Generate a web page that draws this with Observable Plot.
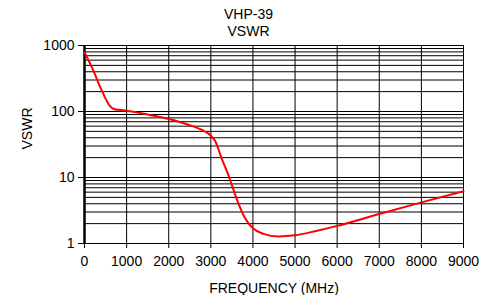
<!DOCTYPE html>
<html>
<head>
<meta charset="utf-8">
<script src="https://cdn.jsdelivr.net/npm/d3@7"></script>
<script src="https://cdn.jsdelivr.net/npm/@observablehq/plot@0.6"></script>
<style>
  body { margin: 0; background: #fff; }
  #wrap { position: relative; width: 497px; height: 295px; font-family: "Liberation Sans", Arial, sans-serif; }
  #title { position: absolute; left: 0; top: 0; width: 497px; text-align: center; font-size: 14px; line-height: 17px; padding-top: 6px; color: #000; z-index: 1; }
</style>
</head>
<body>
<div id="wrap">
  <div id="chart"></div>
  <div id="title"></div>
</div>
<script>
const titleLines = ["VHP-39", "VSWR"];
const xLabel = "FREQUENCY (MHz)";
const yLabel = "VSWR";
const freqMHz = [0, 200, 400, 600, 700, 800, 1000, 1500, 2000, 2500, 2800, 3000, 3100, 3250, 3450, 3600, 3800, 4000, 4250, 4600, 5000, 5500, 6000, 7000, 8000, 9000];
const vswr = [790, 430, 215, 122, 109, 106, 103, 90, 77, 62, 52, 43, 36, 20, 9.5, 5, 2.5, 1.7, 1.4, 1.28, 1.33, 1.55, 1.85, 2.8, 4.2, 6.2];
const xTicks = [0, 1000, 2000, 3000, 4000, 5000, 6000, 7000, 8000, 9000];
const yTicks = [1, 10, 100, 1000];
const yGrid = [];
for (const dec of [1, 10, 100]) for (let k = 1; k <= 10; k++) yGrid.push(dec * k);

const titleEl = document.getElementById("title");
for (const t of titleLines) { const d = document.createElement("div"); d.textContent = t; titleEl.appendChild(d); }

const data = freqMHz.map((f, i) => ({f, v: vswr[i]}));

const chart = Plot.plot({
  width: 497,
  height: 295,
  marginLeft: 84,
  marginRight: 34,
  marginTop: 45,
  marginBottom: 52,
  style: {fontFamily: "Liberation Sans, Arial, sans-serif", fontSize: "14px", color: "#000", background: "#fff"},
  x: {domain: [0, 9000]},
  y: {type: "log", domain: [1, 1000]},
  marks: [
    Plot.ruleY(yGrid, {stroke: "#000", strokeWidth: 1}),
    Plot.ruleX(xTicks, {stroke: "#000", strokeWidth: 1}),
    Plot.ruleX([0], {stroke: "#000", strokeWidth: 2.5}),
    Plot.axisY({ticks: yTicks, tickFormat: d => String(d), tickSize: 6, tickPadding: 4, fontSize: 14, label: null, stroke: "#000"}),
    Plot.axisX({ticks: xTicks, tickFormat: d => String(d), tickSize: 5, tickPadding: 8, fontSize: 14, label: null, stroke: "#000"}),
    Plot.line(data, {x: "f", y: "v", stroke: "#ff0000", strokeWidth: 2, curve: "monotone-x"}),
    Plot.text([xLabel], {frameAnchor: "bottom", dy: 45, text: d => d, fontSize: 14, lineAnchor: "middle", fill: "#000"}),
    Plot.text([yLabel], {frameAnchor: "left", dx: -57, dy: 5, rotate: -90, text: d => d, fontSize: 14, lineAnchor: "middle", fill: "#000"})
  ]
});
document.getElementById("chart").appendChild(chart);
</script>
</body>
</html>
